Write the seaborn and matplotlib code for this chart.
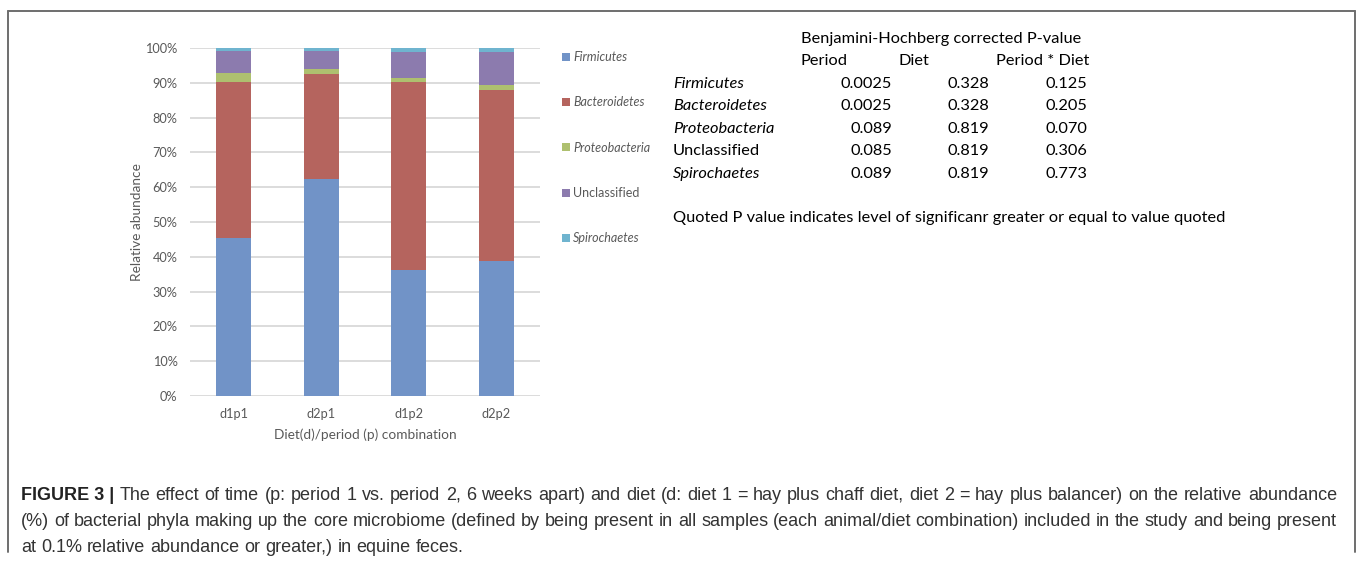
import matplotlib
matplotlib.use("Agg")
import matplotlib.pyplot as plt
import seaborn as sns
import pandas as pd
import numpy as np
from matplotlib.patches import Patch
from matplotlib.lines import Line2D

# ---------------- data ----------------
combos = ["d1p1", "d2p1", "d1p2", "d2p2"]
phyla = ["Firmicutes", "Bacteroidetes", "Proteobacteria", "Unclassified", "Spirochaetes"]
firmicutes = [45.3, 62.4, 36.3, 38.8]
bacteroidetes = [44.9, 30.1, 53.9, 49.1]
proteobacteria = [2.7, 1.5, 1.2, 1.6]
unclassified = [6.3, 5.2, 7.45, 9.4]
spirochaetes = [0.8, 0.8, 1.15, 1.1]
colors = ["#7193c7", "#b5645e", "#aec06f", "#8c7bae", "#6fb4cf"]

yticks = [0, 10, 20, 30, 40, 50, 60, 70, 80, 90, 100]

table_rows = ["Firmicutes", "Bacteroidetes", "Proteobacteria", "Unclassified", "Spirochaetes"]
row_italic = [True, True, True, False, True]
p_period = ["0.0025", "0.0025", "0.089", "0.085", "0.089"]
p_diet = ["0.328", "0.328", "0.819", "0.819", "0.819"]
p_inter = ["0.125", "0.205", "0.070", "0.306", "0.773"]
table_title = "Benjamini-Hochberg corrected P-value"
table_cols = ["Period", "Diet", "Period * Diet"]
note = "Quoted P value indicates level of significanr greater or equal to value quoted"

caption_bold = "FIGURE 3 |"
caption_lines = [
    "The effect of time (p: period 1 vs. period 2, 6 weeks apart) and diet (d: diet 1 = hay plus chaff diet, diet 2 = hay plus balancer) on the relative abundance",
    "(%) of bacterial phyla making up the core microbiome (defined by being present in all samples (each animal/diet combination) included in the study and being present",
    "at 0.1% relative abundance or greater,) in equine feces.",
]

# ---------------- figure ----------------
W, H = 1358, 561
sns.set_theme(style="white")
plt.rcParams["font.family"] = ["Lato", "DejaVu Sans"]
fig = plt.figure(figsize=(W / 100, H / 100), dpi=100)
renderer = fig.canvas.get_renderer()

def px(x, y):
    return x / W, 1 - y / H

ax = fig.add_axes([190 / W, 1 - 396 / H, 350 / W, 348 / H])

series = [firmicutes, bacteroidetes, proteobacteria, unclassified, spirochaetes]
cum = np.zeros(len(combos))
cums = []
for vals in series:
    cum = cum + np.array(vals)
    cums.append(cum.copy())
# draw from the top layer down so each lower layer covers the upper one
for name, c, col in reversed(list(zip(phyla, cums, colors))):
    d = pd.DataFrame({"combo": combos, "value": c})
    sns.barplot(data=d, x="combo", y="value", order=combos, color=col,
                width=0.4, saturation=1, ax=ax, linewidth=0)

ax.set_ylim(0, 100)
ax.set_xlim(-0.5, 3.5)
ax.set_yticks(yticks)
ax.set_yticklabels([f"{t}%" for t in yticks])
ax.yaxis.grid(True, color="#d9d9d9", lw=1.3)
ax.set_axisbelow(True)
for s in ax.spines.values():
    s.set_visible(False)
ax.tick_params(axis="both", length=0, labelsize=9.2, labelcolor="#595959")
ax.tick_params(axis="y", pad=9)
ax.tick_params(axis="x", pad=9)
ax.set_xlabel("Diet(d)/period (p) combination", fontsize=9.8, color="#595959", labelpad=6)
ax.set_ylabel("Relative abundance", fontsize=9.8, color="#595959", labelpad=0)
ax.yaxis.set_label_coords((137 - 190) / 350, 0.5)
ax.yaxis.label.set_verticalalignment("center")

handles = [Patch(facecolor=c, edgecolor="none") for c in colors]
leg = ax.legend(handles, phyla, loc="upper left", bbox_to_anchor=px(562, 51),
                bbox_transform=fig.transFigure, frameon=False, fontsize=9.0,
                labelspacing=2.67, handlelength=0.6, handleheight=0.6,
                handletextpad=0.3, borderaxespad=0, borderpad=0)
for t, it in zip(leg.get_texts(), row_italic):
    t.set_color("#595959")
    if it:
        t.set_style("italic")

# ---------------- table ----------------
tfs = 11.8
fig.text(*px(801, 39), table_title, fontsize=tfs, va="center", ha="left", color="black")
for name, x in zip(table_cols, [801, 898, 996]):
    fig.text(*px(x, 61), name, fontsize=tfs, va="center", ha="left", color="black")
row_y = [84, 106, 129, 151, 174]
for i, y in enumerate(row_y):
    fig.text(*px(673, y), table_rows[i], fontsize=tfs, va="center", ha="left",
             style="italic" if row_italic[i] else "normal", color="black")
    fig.text(*px(892, y), p_period[i], fontsize=tfs, va="center", ha="right", color="black")
    fig.text(*px(989, y), p_diet[i], fontsize=tfs, va="center", ha="right", color="black")
    fig.text(*px(1087, y), p_inter[i], fontsize=tfs, va="center", ha="right", color="black")
fig.text(*px(673, 218), note, fontsize=tfs, va="center", ha="left", color="black")

# ---------------- caption ----------------
cfs = 13.0
cap_family = ["Liberation Sans", "DejaVu Sans"]
cap_col = "#333333"

def word_width(w):
    t = fig.text(0, 0, w, fontsize=cfs, family=cap_family)
    wd = t.get_window_extent(renderer).width
    t.remove()
    return wd

def justified(line, x0, x1, y, justify=True):
    words = line.split(" ")
    widths = [word_width(w) for w in words]
    space = word_width("a a") - word_width("aa")
    if justify and len(words) > 1:
        gap = (x1 - x0 - sum(widths)) / (len(words) - 1)
    else:
        gap = space
    x = x0
    for w, wd in zip(words, widths):
        fig.text(*px(x, y), w, fontsize=cfs, family=cap_family, va="baseline",
                 ha="left", color=cap_col)
        x += wd + gap

tb = fig.text(*px(21, 500), caption_bold, fontsize=cfs, fontweight="bold", family=cap_family,
              va="baseline", ha="left", color="#222222")
bb = tb.get_window_extent(renderer)
justified(caption_lines[0], bb.x1 + 5, 1337, 500)
justified(caption_lines[1], 21, 1337, 526)
justified(caption_lines[2], 21, 1337, 552, justify=False)

# ---------------- frame ----------------
for xs, ys in [([8, 1355], [11, 11]), ([8, 8], [11, 552]), ([1355, 1355], [11, 552])]:
    fig.add_artist(Line2D([x / W for x in xs], [1 - y / H for y in ys],
                          transform=fig.transFigure, color="#6e6e6e", lw=1.4))

fig.savefig("out.png", dpi=100)
